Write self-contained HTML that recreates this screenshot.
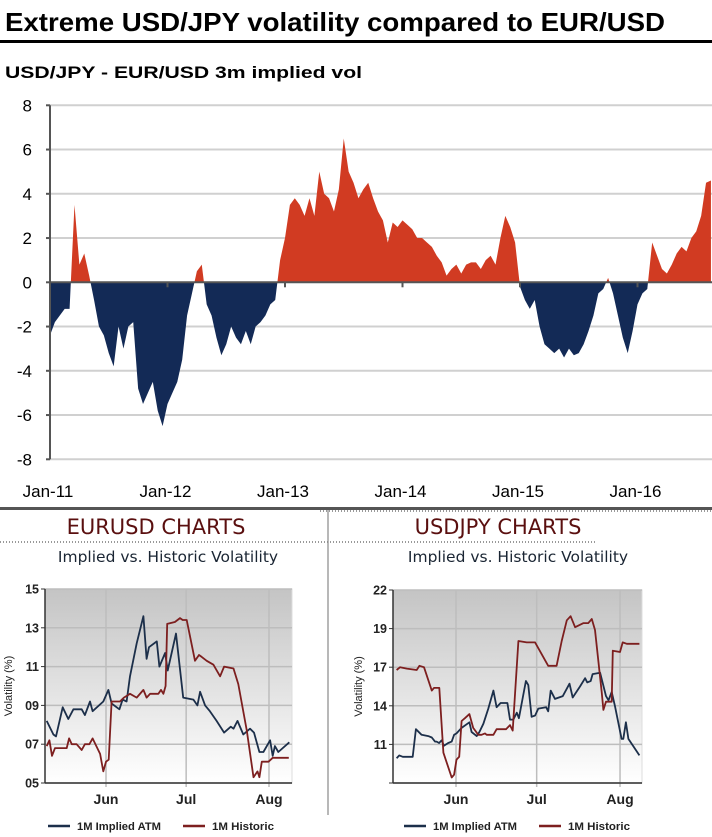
<!DOCTYPE html>
<html><head><meta charset="utf-8"><style>
html,body{margin:0;padding:0;background:#fff;}
svg{display:block;}
</style></head><body>
<svg id="root" width="712" height="837" viewBox="0 0 712 837">
<defs>
<linearGradient id="bgG" x1="0" y1="0" x2="0" y2="1"><stop offset="0" stop-color="#c4c4c4"/><stop offset="1" stop-color="#ffffff"/></linearGradient>
<clipPath id="clipPos"><rect x="0" y="0" width="712" height="282"/></clipPath>
<clipPath id="clipNeg"><rect x="0" y="282" width="712" height="300"/></clipPath>
</defs>
<text x="5" y="31" font-family="Liberation Sans, sans-serif" font-weight="bold" font-size="26" textLength="660" lengthAdjust="spacingAndGlyphs">Extreme USD/JPY volatility compared to EUR/USD</text>
<rect x="0" y="40" width="712" height="3" fill="#000"/>
<text x="5" y="78" font-family="Liberation Sans, sans-serif" font-weight="bold" font-size="17" textLength="357" lengthAdjust="spacingAndGlyphs">USD/JPY - EUR/USD 3m implied vol</text>
<g id="top"></g>
<rect x="0" y="507" width="712" height="3" fill="#555"/>
<line x1="0" y1="542" x2="330" y2="542" stroke="#333" stroke-dasharray="1,2"/>
<line x1="320" y1="511" x2="712" y2="511" stroke="#333" stroke-dasharray="1,2"/>
<line x1="330" y1="542" x2="597" y2="542" stroke="#333" stroke-dasharray="1,2"/>
<line x1="328" y1="510" x2="328" y2="815" stroke="#888" stroke-width="1.2"/>
<text x="156" y="534" text-anchor="middle" font-family="DejaVu Sans, sans-serif" font-size="21" fill="#5a0f0f">EURUSD CHARTS</text>
<text x="168" y="562" text-anchor="middle" font-family="DejaVu Sans, sans-serif" font-size="15.5" fill="#1a2533">Implied vs. Historic Volatility</text>
<text x="498" y="534" text-anchor="middle" font-family="DejaVu Sans, sans-serif" font-size="21" fill="#5a0f0f">USDJPY CHARTS</text>
<text x="518" y="562" text-anchor="middle" font-family="DejaVu Sans, sans-serif" font-size="15.5" fill="#1a2533">Implied vs. Historic Volatility</text>
<g id="left"></g>
<g id="right"></g>
</svg>
<script>
// ===== Top chart data: USD/JPY - EUR/USD 3m implied vol spread, half-monthly from Jan-11 =====
const topYearLabels = ["Jan-11","Jan-12","Jan-13","Jan-14","Jan-15","Jan-16"];
const topYTicks = [8,6,4,2,0,-2,-4,-6,-8];
const topSpread = [
-2.4,-1.8,-1.5,-1.2,-1.2,3.5,0.8,1.3,0.3,-0.8,-2.0,-2.4,-3.2,-3.8,-2.0,-3.0,-2.0,-1.8,-4.8,-5.5,-5.0,-4.5,-5.8,-6.5,
-5.5,-5.0,-4.5,-3.5,-1.5,-0.5,0.5,0.8,-1.0,-1.5,-2.5,-3.3,-2.8,-2.0,-2.5,-2.8,-2.2,-2.8,-2.0,-1.8,-1.5,-1.0,-0.8,1.0,
2.0,3.5,3.8,3.5,3.0,3.8,3.0,5.0,4.0,3.8,3.2,4.2,6.5,5.0,4.5,3.8,4.2,4.5,3.8,3.2,2.8,1.8,2.7,2.5,
2.8,2.6,2.4,2.0,2.0,1.8,1.6,1.2,0.9,0.3,0.6,0.8,0.4,0.8,0.9,0.9,0.6,1.0,1.2,0.8,2.0,3.0,2.5,1.8,
-0.2,-0.8,-1.2,-0.8,-2.0,-2.8,-3.0,-3.2,-3.0,-3.4,-3.0,-3.3,-3.2,-2.8,-2.2,-1.5,-0.5,-0.3,0.2,-0.5,-1.5,-2.5,-3.2,-2.2,
-1.0,-0.5,-0.3,1.8,1.2,0.6,0.4,0.8,1.3,1.6,1.4,2.0,2.3,3.0,4.5,4.6
];

// ===== EURUSD chart data (day index: May 1 = 0) =====
const eurTickLabels = ["15","13","11","09","07","05"];
const eurTickValues = [15,13,11,9,7,5];
const monthLabels = ["Jun","Jul","Aug"];
const monthDays = [31,61,92];
const eurImpDays = [8.8,11.3,12.3,14.8,16.9,18.8,21.9,23.1,25.0,26.0,30.0,31.9,33.1,36.0,37.2,38.7,40.0,42.5,45.0,46.2,47.1,50.0,51.0,53.1,54.1,57.2,59.9,63.7,65.2,66.2,68.1,69.9,72.4,75.2,77.7,78.7,80.2,82.4,84.9,86.4,88.4,89.9,92.4,93.4,94.2,95.5,99.6];
const eurImpVals = [8.2,7.5,7.4,8.9,8.3,8.8,8.8,8.5,9.2,8.7,9.2,9.8,9.1,8.8,9.3,9.2,10.5,12.2,13.6,11.4,12.0,12.3,11.0,11.7,10.8,12.7,9.4,9.3,9.0,9.7,9.0,8.7,8.2,7.6,7.9,7.8,8.2,7.5,7.8,7.6,6.6,6.6,7.2,6.4,6.9,6.6,7.1];
const eurHisDays = [8.8,9.8,10.8,11.9,16.3,17.2,18.2,20.0,21.9,23.1,24.8,26.0,28.8,30.0,31.0,32.0,33.1,36.2,37.7,40.0,42.5,45.0,46.2,47.5,50.6,51.6,52.5,53.3,53.9,56.8,58.7,59.7,61.2,64.3,65.8,66.8,68.7,71.2,73.7,75.2,78.7,80.5,83.7,86.2,87.7,88.4,89.3,91.8,93.4,96.1,99.4];
const eurHisVals = [6.9,7.2,6.4,6.8,6.8,7.3,7.0,7.0,6.7,7.0,7.0,7.3,6.5,5.6,6.1,6.2,9.2,9.2,9.4,9.6,9.4,9.8,9.4,9.6,9.6,9.8,9.6,10.0,13.2,13.3,13.5,13.4,13.4,11.3,11.6,11.5,11.3,11.1,10.5,11.0,10.9,10.1,7.7,5.3,5.6,5.3,6.1,6.1,6.3,6.3,6.3];

// ===== USDJPY chart data =====
const jpyTickLabels = ["22","19","17","14","11",""];
const jpyTickValues = [22,19.2,16.4,13.6,10.8,8.0];
const jpyImpDays = [8.9,9.9,11.2,14.9,16.1,18.2,20.7,22.0,23.2,23.8,24.7,25.7,26.5,28.1,29.4,30.3,31.2,33.1,36.0,36.8,38.7,39.7,41.2,43.0,44.9,46.1,47.6,50.1,51.1,52.3,53.6,54.4,57.0,57.9,59.1,60.4,61.6,64.5,65.3,66.2,67.8,70.7,73.2,74.4,77.1,79.0,79.8,81.1,81.8,84.6,86.8,87.7,88.9,90.1,92.6,93.2,94.2,95.1,99.2];
const jpyImpVals = [9.8,10.0,9.9,9.9,11.9,11.5,11.4,11.3,11.0,11.0,10.9,11.1,10.7,10.9,11.0,11.5,11.6,12.0,12.4,11.7,11.4,11.7,12.3,13.4,14.7,13.5,13.8,13.8,12.6,12.6,13.1,12.7,15.4,15.1,12.8,12.9,13.4,13.5,13.2,14.7,14.1,14.3,15.2,14.2,15.0,15.6,15.3,15.4,15.9,16.0,14.3,14.0,14.6,13.6,11.2,11.2,12.4,11.2,10.0];
const jpyHisDays = [8.9,10.2,12.7,16.4,17.4,19.1,22.0,22.8,24.8,26.3,29.4,30.3,31.2,32.2,33.1,34.3,36.0,37.4,39.3,40.5,41.8,42.4,44.9,46.1,49.6,51.1,52.1,54.2,57.3,58.5,60.4,65.3,68.4,70.3,72.2,73.6,75.3,78.4,80.2,81.5,82.7,85.2,85.8,86.8,88.9,89.3,92.0,93.0,94.5,99.2];
const jpyHisVals = [16.2,16.4,16.3,16.2,16.5,16.4,14.7,14.9,14.9,10.2,8.4,8.6,9.7,9.9,12.5,12.7,13.0,12.0,11.5,11.5,11.6,11.5,11.5,11.9,11.9,12.2,11.8,18.3,18.2,18.2,18.2,16.5,16.5,18.3,19.8,20.1,19.3,19.6,19.6,19.9,19.1,14.6,13.3,13.9,13.9,17.6,17.5,18.2,18.1,18.1];

const NS = "http://www.w3.org/2000/svg";
function mk(parent, tag, attrs, text) {
  const e = document.createElementNS(NS, tag);
  for (const k in attrs) e.setAttribute(k, attrs[k]);
  if (text !== undefined) e.textContent = text;
  parent.appendChild(e);
  return e;
}

// ---- Top chart ----
(function(){
  const g = document.getElementById('top');
  const x0 = 50, yearPx = 117.5, step = yearPx / 24;
  const yTop = 105.3, yBot = 459.3, vMax = 8, vMin = -8;
  const xs = i => x0 + i * step;
  const ys = v => yTop + (vMax - v) / (vMax - vMin) * (yBot - yTop);
  topYTicks.forEach(v => {
    if (v !== 0) {
      const l = mk(g, 'line', {x1: x0, x2: 712, y1: ys(v), y2: ys(v), stroke: '#d0d0d0', 'stroke-width': 2});
      
      
    }
    const t = mk(g, 'text', {x: 32, y: ys(v) + 6, 'text-anchor': 'end', 'font-family': 'Liberation Sans, sans-serif', 'font-size': 17}, String(v));
    
    
  });
  let d = 'M' + xs(0) + ',' + ys(0);
  topSpread.forEach((v, i) => { d += 'L' + xs(i).toFixed(2) + ',' + ys(v).toFixed(2); });
  d += 'L' + xs(topSpread.length - 1).toFixed(2) + ',' + ys(0) + 'Z';
  const pos = mk(g, 'path', {d: d, fill: '#d13b22', 'clip-path': 'url(#clipPos)'});
  
  
  const neg = mk(g, 'path', {d: d, fill: '#132a56', 'clip-path': 'url(#clipNeg)'});
  
  
  const ax = mk(g, 'line', {x1: x0, x2: 712, y1: ys(0), y2: ys(0), stroke: '#555', 'stroke-width': 2});
  
  
  const yax = mk(g, 'line', {x1: x0, x2: x0, y1: yTop, y2: yBot, stroke: '#555', 'stroke-width': 2});
  
  
  topYTicks.forEach(v => {
    const tk = mk(g, 'line', {x1: x0 - 4, x2: x0, y1: ys(v), y2: ys(v), stroke: '#555', 'stroke-width': 2});
    
    
  });
  topYearLabels.forEach((lab, i) => {
    const x = x0 + i * yearPx;
    const tk = mk(g, 'line', {x1: x, x2: x, y1: ys(0), y2: ys(0) + 5, stroke: '#555', 'stroke-width': 2});
    
    
    const t = mk(g, 'text', {x: x - 2, y: 497, 'text-anchor': 'middle', 'font-family': 'Liberation Sans, sans-serif', 'font-size': 17}, lab);
    
    
  });
})();

// ---- Bottom charts ----
function lineChart(gid, cfg) {
  const g = document.getElementById(gid);
  const xs = d => cfg.xJun + (d - 31) * cfg.pxDay;
  const ys = v => cfg.yTop + (cfg.vTop - v) / (cfg.vTop - cfg.vBot) * (cfg.yBot - cfg.yTop);
  const bg = mk(g, 'rect', {x: cfg.xL, y: cfg.yTop, width: cfg.xR - cfg.xL, height: cfg.yBot - cfg.yTop, fill: 'url(#bgG)', stroke: '#ddd'});
  
  
  cfg.tickVals.forEach((v, i) => {
    const l = mk(g, 'line', {x1: cfg.xL, x2: cfg.xR, y1: ys(v), y2: ys(v), stroke: '#bdbdbd', 'stroke-width': 1.5});
    
    
    const tk = mk(g, 'line', {x1: cfg.xL - 4, x2: cfg.xL, y1: ys(v), y2: ys(v), stroke: '#333'});
    
    
    const t = mk(g, 'text', {x: cfg.xL - 6, y: ys(v) + 4.5, 'text-anchor': 'end', 'font-family': 'Liberation Sans, sans-serif', 'font-weight': 'bold', 'font-size': 12.5, fill: '#222'}, cfg.tickLabels[i]);
    
    
  });
  monthDays.forEach((dd, i) => {
    const x = xs(dd);
    const l = mk(g, 'line', {x1: x, x2: x, y1: cfg.yTop, y2: cfg.yBot + 4, stroke: '#bdbdbd', 'stroke-width': 1.5});
    
    
    const t = mk(g, 'text', {x: x, y: cfg.yBot + 21, 'text-anchor': 'middle', 'font-family': 'Liberation Sans, sans-serif', 'font-weight': 'bold', 'font-size': 14, fill: '#222'}, monthLabels[i]);
    
    
  });
  const ya = mk(g, 'line', {x1: cfg.xL, x2: cfg.xL, y1: cfg.yTop, y2: cfg.yBot, stroke: '#333', 'stroke-width': 1.5});
  
  
  const xa = mk(g, 'line', {x1: cfg.xL, x2: cfg.xR, y1: cfg.yBot, y2: cfg.yBot, stroke: '#333', 'stroke-width': 1.5});
  
  
  const yt = mk(g, 'text', {x: 0, y: 0, transform: 'translate(' + cfg.titleX + ',' + ((cfg.yTop + cfg.yBot) / 2) + ') rotate(-90)', 'text-anchor': 'middle', 'font-family': 'Liberation Sans, sans-serif', 'font-size': 11, fill: '#222'}, 'Volatility (%)');
  
  
  const series = [[cfg.impD, cfg.impV, '#1c2f4a', 'implied-line'], [cfg.hisD, cfg.hisV, '#7d1f1f', 'historic-line']];
  series.forEach(s => {
    const pts = s[0].map((dd, i) => xs(dd).toFixed(1) + ',' + ys(s[1][i]).toFixed(1)).join(' ');
    const p = mk(g, 'polyline', {points: pts, fill: 'none', stroke: s[2], 'stroke-width': 1.8, 'stroke-linejoin': 'round'});
    
    
  });
  const ly = 826;
  const l1 = mk(g, 'line', {x1: cfg.legX, x2: cfg.legX + 22, y1: ly, y2: ly, stroke: '#1c2f4a', 'stroke-width': 2.5});
  
  
  const t1 = mk(g, 'text', {x: cfg.legX + 29, y: ly + 4, 'font-family': 'Liberation Sans, sans-serif', 'font-weight': 'bold', 'font-size': 11, fill: '#222', textLength: 84, lengthAdjust: 'spacingAndGlyphs'}, '1M Implied ATM');
  
  
  const l2 = mk(g, 'line', {x1: cfg.legX + 135, x2: cfg.legX + 157, y1: ly, y2: ly, stroke: '#7d1f1f', 'stroke-width': 2.5});
  
  
  const t2 = mk(g, 'text', {x: cfg.legX + 164, y: ly + 4, 'font-family': 'Liberation Sans, sans-serif', 'font-weight': 'bold', 'font-size': 11, fill: '#222', textLength: 62, lengthAdjust: 'spacingAndGlyphs'}, '1M Historic');
  
  
}
lineChart('left', {xL: 45, xR: 292, yTop: 589, yBot: 783, vTop: 15, vBot: 5, xJun: 106, pxDay: 2.672,
  tickVals: eurTickValues, tickLabels: eurTickLabels, impD: eurImpDays, impV: eurImpVals, hisD: eurHisDays, hisV: eurHisVals, titleX: 12, legX: 48});
lineChart('right', {xL: 393, xR: 642, yTop: 590, yBot: 783, vTop: 22, vBot: 8, xJun: 456, pxDay: 2.689,
  tickVals: jpyTickValues, tickLabels: jpyTickLabels, impD: jpyImpDays, impV: jpyImpVals, hisD: jpyHisDays, hisV: jpyHisVals, titleX: 362, legX: 404});
</script>
</body></html>
